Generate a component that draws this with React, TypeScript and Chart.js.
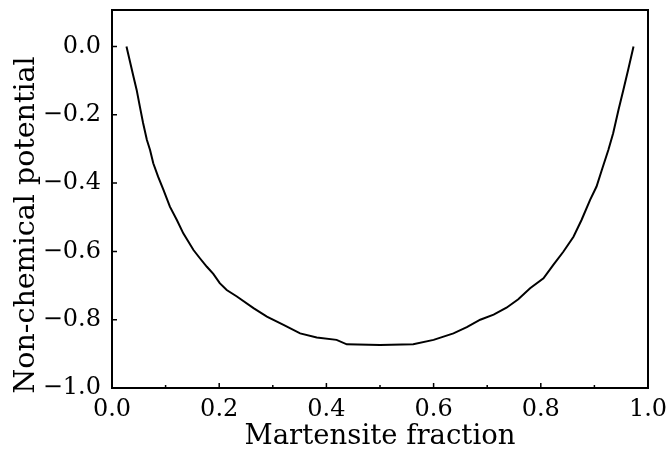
import React, { useEffect, useRef } from "react";
import { Chart, registerables } from "chart.js";

Chart.register(...registerables);

const fraction = [0.027, 0.04, 0.046, 0.052, 0.058, 0.065, 0.071, 0.077, 0.086, 0.096, 0.108, 0.121, 0.133, 0.152, 0.164, 0.177, 0.189, 0.201, 0.214, 0.233, 0.264, 0.289, 0.32, 0.351, 0.382, 0.419, 0.438, 0.5, 0.562, 0.6, 0.637, 0.662, 0.687, 0.712, 0.736, 0.758, 0.78, 0.805, 0.823, 0.842, 0.861, 0.876, 0.892, 0.904, 0.914, 0.926, 0.935, 0.945, 0.954, 0.963, 0.973];
const potential = [0, -0.088, -0.127, -0.176, -0.224, -0.273, -0.303, -0.342, -0.381, -0.42, -0.469, -0.508, -0.547, -0.596, -0.62, -0.645, -0.666, -0.693, -0.713, -0.732, -0.766, -0.791, -0.815, -0.84, -0.852, -0.859, -0.872, -0.874, -0.872, -0.859, -0.84, -0.822, -0.8, -0.785, -0.765, -0.74, -0.708, -0.679, -0.64, -0.601, -0.557, -0.508, -0.449, -0.41, -0.361, -0.303, -0.254, -0.185, -0.127, -0.068, 0];
const xTicks = [0, 0.2, 0.4, 0.6, 0.8, 1.0];
const xMinorTicks = [0.1, 0.3, 0.5, 0.7, 0.9];
const yTicks = [-1.0, -0.8, -0.6, -0.4, -0.2, 0.0];
const xTitle = "Martensite fraction";
const yTitle = "Non-chemical potential";

const FONT = "'DejaVu Serif', serif";
const TICK_SIZE = 24;
const TITLE_SIZE = 27.5;
const YTITLE_SIZE = 28.5;

const fmt = (v: number) => {
  const s = Math.abs(v).toFixed(1);
  return v < -1e-9 ? "\u2212" + s : s;
};

const framePlugin = {
  id: "frameTicks",
  afterDraw(chart: any) {
    const { ctx, chartArea } = chart;
    const xs = chart.scales.x;
    const ys = chart.scales.y;
    ctx.save();
    ctx.strokeStyle = "#000";
    ctx.lineWidth = 2;
    ctx.strokeRect(chartArea.left, chartArea.top, chartArea.right - chartArea.left, chartArea.bottom - chartArea.top);
    ctx.lineWidth = 1.5;
    ctx.beginPath();
    xTicks.forEach((v) => {
      const px = xs.getPixelForValue(v);
      ctx.moveTo(px, chartArea.bottom);
      ctx.lineTo(px, chartArea.bottom - 5);
    });
    xMinorTicks.forEach((v) => {
      const px = xs.getPixelForValue(v);
      ctx.moveTo(px, chartArea.bottom);
      ctx.lineTo(px, chartArea.bottom - 3);
    });
    yTicks.forEach((v) => {
      const py = ys.getPixelForValue(v);
      ctx.moveTo(chartArea.left, py);
      ctx.lineTo(chartArea.left + 5, py);
    });
    ctx.stroke();
    // y-axis title
    ctx.fillStyle = "#000";
    ctx.font = `${YTITLE_SIZE}px ${FONT}`;
    ctx.textAlign = "center";
    ctx.textBaseline = "middle";
    ctx.translate(27, (chartArea.top + chartArea.bottom) / 2 + 26);
    ctx.rotate(-Math.PI / 2);
    ctx.fillText(yTitle, 0, 0);
    ctx.restore();
  },
};

export default function App() {
  const ref = useRef<HTMLCanvasElement | null>(null);
  useEffect(() => {
    if (!ref.current) return;
    const chart = new Chart(ref.current, {
      type: "line",
      data: {
        datasets: [
          {
            data: fraction.map((x, i) => ({ x, y: potential[i] })),
            borderColor: "#000",
            borderWidth: 2,
            pointRadius: 0,
            tension: 0,
            fill: false,
          },
        ],
      },
      options: {
        animation: false,
        responsive: false,
        maintainAspectRatio: false,
        layout: { padding: { left: 0, top: 10, right: 23, bottom: 0 } },
        plugins: { legend: { display: false }, tooltip: { enabled: false } },
        scales: {
          x: {
            type: "linear",
            min: 0,
            max: 1,
            afterBuildTicks: (s: any) => {
              s.ticks = xTicks.map((v) => ({ value: v }));
            },
            afterFit: (s: any) => {
              s.height = 65;
              s.paddingLeft = 0;
              s.paddingRight = 0;
            },
            grid: { display: false, drawTicks: false },
            border: { display: false },
            ticks: {
              color: "#000",
              padding: 7,
              maxRotation: 0,
              font: { family: FONT, size: TICK_SIZE },
              callback: (v: any) => fmt(Number(v)),
            },
            title: {
              display: true,
              text: xTitle,
              color: "#000",
              font: { family: FONT, size: TITLE_SIZE },
              padding: { top: 0, bottom: 0 },
            },
          },
          y: {
            type: "linear",
            min: -1,
            max: 0.107,
            afterBuildTicks: (s: any) => {
              s.ticks = yTicks.map((v) => ({ value: v }));
            },
            afterFit: (s: any) => {
              s.width = 112;
              s.paddingTop = 0;
              s.paddingBottom = 0;
            },
            grid: { display: false, drawTicks: false },
            border: { display: false },
            ticks: {
              color: "#000",
              padding: 11,
              font: { family: FONT, size: TICK_SIZE },
              callback: (v: any) => fmt(Number(v)),
            },
            title: { display: false, text: yTitle },
          },
        },
      },
      plugins: [framePlugin],
    });
    return () => chart.destroy();
  }, []);
  return (
    <div style={{ position: "fixed", left: 0, top: 0, width: 671, height: 453, background: "#fff" }}>
      <canvas ref={ref} width={671} height={453} style={{ width: 671, height: 453 }} />
    </div>
  );
}
